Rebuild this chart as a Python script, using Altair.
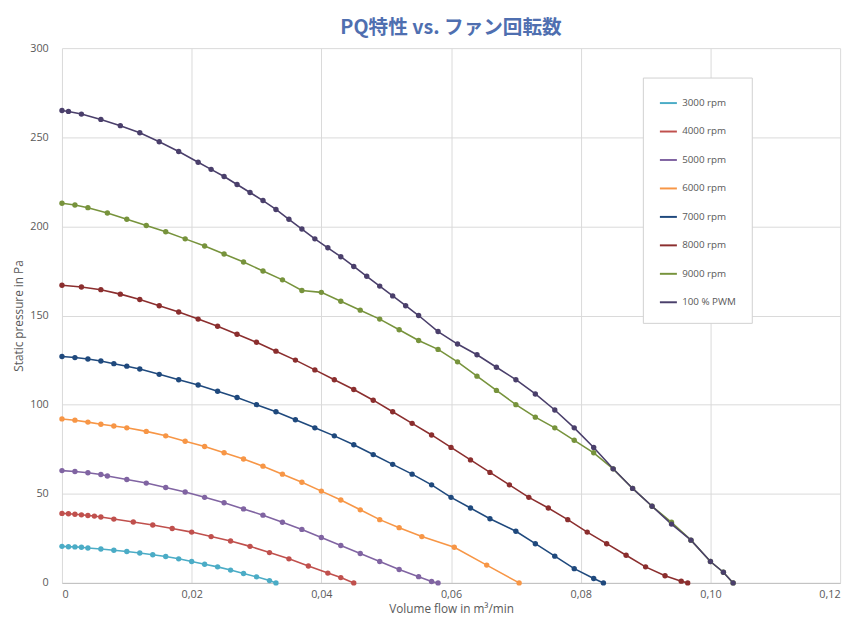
import altair as alt
import pandas as pd

series = ["3000 rpm", "4000 rpm", "5000 rpm", "6000 rpm", "7000 rpm", "8000 rpm", "9000 rpm", "100 % PWM"]
colors = ["#4BACC6", "#C0504D", "#8064A2", "#F79646", "#1F497D", "#8B2E2E", "#77933C", "#4A3F6B"]

q3000 = [0, 0.001, 0.002, 0.003, 0.004, 0.006, 0.008, 0.010, 0.012, 0.014, 0.016, 0.018, 0.020, 0.022, 0.024, 0.026, 0.028, 0.030, 0.032, 0.033]
p3000 = [20.5, 20.3, 20.2, 20, 19.6, 19, 18.3, 17.6, 16.8, 15.8, 14.8, 13.5, 12, 10.5, 9, 7.2, 5.3, 3.4, 1.3, 0]
q4000 = [0, 0.001, 0.002, 0.003, 0.004, 0.005, 0.006, 0.008, 0.011, 0.014, 0.017, 0.020, 0.023, 0.026, 0.029, 0.032, 0.035, 0.038, 0.041, 0.043, 0.045]
p4000 = [39, 38.8, 38.5, 38.2, 37.8, 37.5, 37, 35.8, 34.2, 32.5, 30.5, 28.5, 26, 23.5, 20.5, 17, 13.5, 9.5, 5.5, 3, 0]
q5000 = [0, 0.002, 0.004, 0.006, 0.007, 0.010, 0.013, 0.016, 0.019, 0.022, 0.025, 0.028, 0.031, 0.034, 0.037, 0.040, 0.043, 0.046, 0.049, 0.052, 0.055, 0.057, 0.058]
p5000 = [63, 62.5, 61.8, 60.8, 60, 58, 56, 53.5, 51, 48, 45, 41.5, 38, 34, 30, 25.5, 21, 16.5, 12, 7.5, 3.5, 0.8, 0]
q6000 = [0, 0.002, 0.004, 0.006, 0.008, 0.010, 0.013, 0.016, 0.019, 0.022, 0.025, 0.028, 0.031, 0.034, 0.037, 0.040, 0.043, 0.046, 0.049, 0.052, 0.0555, 0.0605, 0.0655, 0.0705]
p6000 = [92, 91.3, 90.2, 89, 88, 87, 85, 82.5, 79.5, 76.5, 73, 69.5, 65.5, 61, 56.5, 51.5, 46.5, 41, 35.5, 31, 26, 20, 10, 0]
q7000 = [0, 0.002, 0.004, 0.006, 0.008, 0.010, 0.012, 0.015, 0.018, 0.021, 0.024, 0.027, 0.030, 0.033, 0.036, 0.039, 0.042, 0.045, 0.048, 0.051, 0.054, 0.057, 0.060, 0.063, 0.066, 0.070, 0.073, 0.076, 0.079, 0.082, 0.0835]
p7000 = [127, 126.4, 125.6, 124.5, 123, 121.6, 120, 117, 114, 111, 107.5, 104, 100, 96, 91.5, 87, 82.5, 77.5, 72, 66.5, 61, 55, 48, 42, 36, 29, 22, 15, 8, 2.5, 0]
q8000 = [0, 0.003, 0.006, 0.009, 0.012, 0.015, 0.018, 0.021, 0.024, 0.027, 0.030, 0.033, 0.036, 0.039, 0.042, 0.045, 0.048, 0.051, 0.054, 0.057, 0.060, 0.063, 0.066, 0.069, 0.072, 0.075, 0.078, 0.081, 0.084, 0.087, 0.090, 0.093, 0.0955, 0.0965]
p8000 = [167, 166, 164.5, 162, 159, 155.5, 152, 148, 144, 139.5, 135, 130, 125, 119.5, 114, 108.5, 102.5, 96, 89.5, 83, 76, 69, 62, 55, 48, 42, 35.5, 28.5, 22, 15.5, 9, 4, 1, 0]
q9000 = [0, 0.002, 0.004, 0.007, 0.010, 0.013, 0.016, 0.019, 0.022, 0.025, 0.028, 0.031, 0.034, 0.037, 0.040, 0.043, 0.046, 0.049, 0.052, 0.055, 0.058, 0.061, 0.064, 0.067, 0.070, 0.073, 0.076, 0.079, 0.082, 0.085, 0.088, 0.091, 0.094, 0.097, 0.100, 0.102, 0.1035]
p9000 = [213, 212, 210.5, 207.5, 204, 200.5, 197, 193, 189, 184.5, 180, 175, 170, 164, 163, 158, 153, 148, 142, 136, 131, 124, 116, 108, 100, 93, 87, 80, 73, 64, 53, 43, 34, 24, 12, 6, 0]
qpwm = [0, 0.001, 0.003, 0.006, 0.009, 0.012, 0.015, 0.018, 0.021, 0.023, 0.025, 0.027, 0.029, 0.031, 0.033, 0.035, 0.037, 0.039, 0.041, 0.043, 0.045, 0.047, 0.049, 0.051, 0.053, 0.055, 0.058, 0.061, 0.064, 0.067, 0.070, 0.073, 0.076, 0.079, 0.082, 0.085, 0.088, 0.091, 0.094, 0.097, 0.100, 0.102, 0.1035]
ppwm = [265, 264.5, 263, 260, 256.5, 252.5, 247.5, 242, 236, 232, 228, 223.5, 219, 214.5, 209.5, 204, 198.5, 193, 188, 183, 177.5, 172, 166.5, 161, 155.5, 150, 141, 134, 128, 121, 114, 106, 97, 87, 76, 64, 53, 43, 33, 24, 12, 6, 0]

qs = [q3000, q4000, q5000, q6000, q7000, q8000, q9000, qpwm]
ps = [p3000, p4000, p5000, p6000, p7000, p8000, p9000, ppwm]

rows = []
for name, q, p in zip(series, qs, ps):
    for a, b in zip(q, p):
        rows.append({"Serie": name, "q": a, "p": b})
df = pd.DataFrame(rows)

lab = "datum.value == 0 ? '0' : replace(format(datum.value, '.2f'), '.', ',')"

chart = alt.Chart(df).mark_line(
    point={"filled": True, "size": 30}, strokeWidth=1.6
).encode(
    x=alt.X("q:Q", scale=alt.Scale(domain=[0, 0.12], nice=False),
            axis=alt.Axis(title="Volume flow in m³/min", values=[0, 0.02, 0.04, 0.06, 0.08, 0.1, 0.12],
                          labelExpr=lab, gridColor="#d9d9d9", domainColor="#bfbfbf", tickSize=0, labelPadding=6)),
    y=alt.Y("p:Q", scale=alt.Scale(domain=[0, 300]),
            axis=alt.Axis(title="Static pressure in Pa", tickCount=6, gridColor="#d9d9d9", domain=False, tickSize=0, labelPadding=14)),
    color=alt.Color("Serie:N", sort=series, scale=alt.Scale(domain=series, range=colors),
                    legend=alt.Legend(title=None, orient="none", legendX=592, legendY=30, direction="vertical",
                                      labelFontSize=10, symbolType="stroke", symbolStrokeWidth=2, rowPadding=14,
                                      strokeColor="#d0d0d0", padding=16, fillColor="white", labelLimit=120,
                                      symbolSize=300)),
    detail="Serie:N",
).properties(
    width=854, height=617,
    autosize=alt.AutoSizeParams(type="fit", contains="padding"),
    title=alt.Title("PQ特性 vs. ファン回転数", fontSize=20, color="#4F6FB0", fontWeight="bold", font="Noto Sans CJK JP"),
).configure_view(strokeWidth=0).configure_axis(
    labelFont="Open Sans", titleFont="Open Sans", labelColor="#595959", titleColor="#595959",
    labelFontSize=11, titleFontSize=12, titleFontWeight="normal"
).configure_legend(labelFont="Open Sans", labelColor="#595959")

chart.save("out.html", embed_options={"renderer": "svg", "actions": False})
